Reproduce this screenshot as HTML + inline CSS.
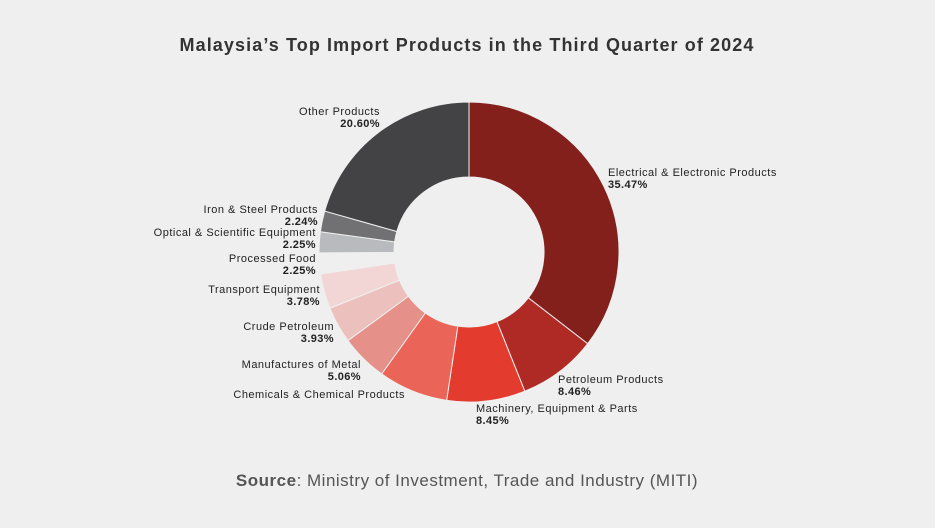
<!DOCTYPE html>
<html><head><meta charset="utf-8"><style>
html,body{margin:0;padding:0;background:#efefef;}
svg{display:block;font-family:"Liberation Sans",sans-serif;}
.l{font-size:11px;fill:#222;letter-spacing:0.5px;}
.b{font-size:11px;font-weight:bold;fill:#222;letter-spacing:0.4px;}
</style></head><body>
<svg id="s" width="935" height="528" viewBox="0 0 935 528">
<rect width="935" height="528" fill="#efefef"/>
<text x="467" y="51" text-anchor="middle" font-size="18" font-weight="bold" fill="#333" letter-spacing="1.1">Malaysia’s Top Import Products in the Third Quarter of 2024</text>
<g id="pie"></g>
<text class="l" x="608" y="176">Electrical &amp; Electronic Products</text>
<text class="b" x="608" y="188">35.47%</text>
<text class="l" x="558" y="383">Petroleum Products</text>
<text class="b" x="558" y="395">8.46%</text>
<text class="l" x="476" y="412">Machinery, Equipment &amp; Parts</text>
<text class="b" x="476" y="424">8.45%</text>
<text class="l" x="405" y="398" text-anchor="end">Chemicals &amp; Chemical Products</text>
<text class="l" x="361" y="368" text-anchor="end">Manufactures of Metal</text>
<text class="b" x="361" y="380" text-anchor="end">5.06%</text>
<text class="l" x="334" y="330" text-anchor="end">Crude Petroleum</text>
<text class="b" x="334" y="342" text-anchor="end">3.93%</text>
<text class="l" x="320" y="293" text-anchor="end">Transport Equipment</text>
<text class="b" x="320" y="305" text-anchor="end">3.78%</text>
<text class="l" x="316" y="262" text-anchor="end">Processed Food</text>
<text class="b" x="316" y="274" text-anchor="end">2.25%</text>
<text class="l" x="316" y="236" text-anchor="end">Optical &amp; Scientific Equipment</text>
<text class="b" x="316" y="248" text-anchor="end">2.25%</text>
<text class="l" x="318" y="213" text-anchor="end">Iron &amp; Steel Products</text>
<text class="b" x="318" y="225" text-anchor="end">2.24%</text>
<text class="l" x="380" y="115" text-anchor="end">Other Products</text>
<text class="b" x="380" y="127" text-anchor="end">20.60%</text>
<text x="467" y="486" text-anchor="middle" font-size="17" fill="#555" letter-spacing="0.5"><tspan font-weight="bold">Source</tspan>: Ministry of Investment, Trade and Industry (MITI)</text>
</svg>
<script>
var d=[[35.47,"#84201c"],[8.46,"#b02a25"],[8.45,"#e33b2e"],[7.51,"#ea6558"],[5.06,"#e59088"],[3.93,"#ebc0bd"],[3.78,"#f1d6d5"],[2.25,"#efefef"],[2.25,"#b8babd"],[2.24,"#717173"],[20.60,"#434345"]];
var cx=469,cy=252,R=150,r=75,a=0,h="";
function p(rad,t){var g=t/100*2*Math.PI;return (cx+rad*Math.sin(g)).toFixed(2)+" "+(cy-rad*Math.cos(g)).toFixed(2);}
d.forEach(function(s){var b=a+s[0],lg=s[0]>50?1:0;
h+='<path d="M'+p(R,a)+' A'+R+' '+R+' 0 '+lg+' 1 '+p(R,b)+' L'+p(r,b)+' A'+r+' '+r+' 0 '+lg+' 0 '+p(r,a)+' Z" fill="'+s[1]+'" stroke="#efefef" stroke-width="1"/>';a=b;});
document.getElementById("pie").innerHTML=h;
</script>
</body></html>
